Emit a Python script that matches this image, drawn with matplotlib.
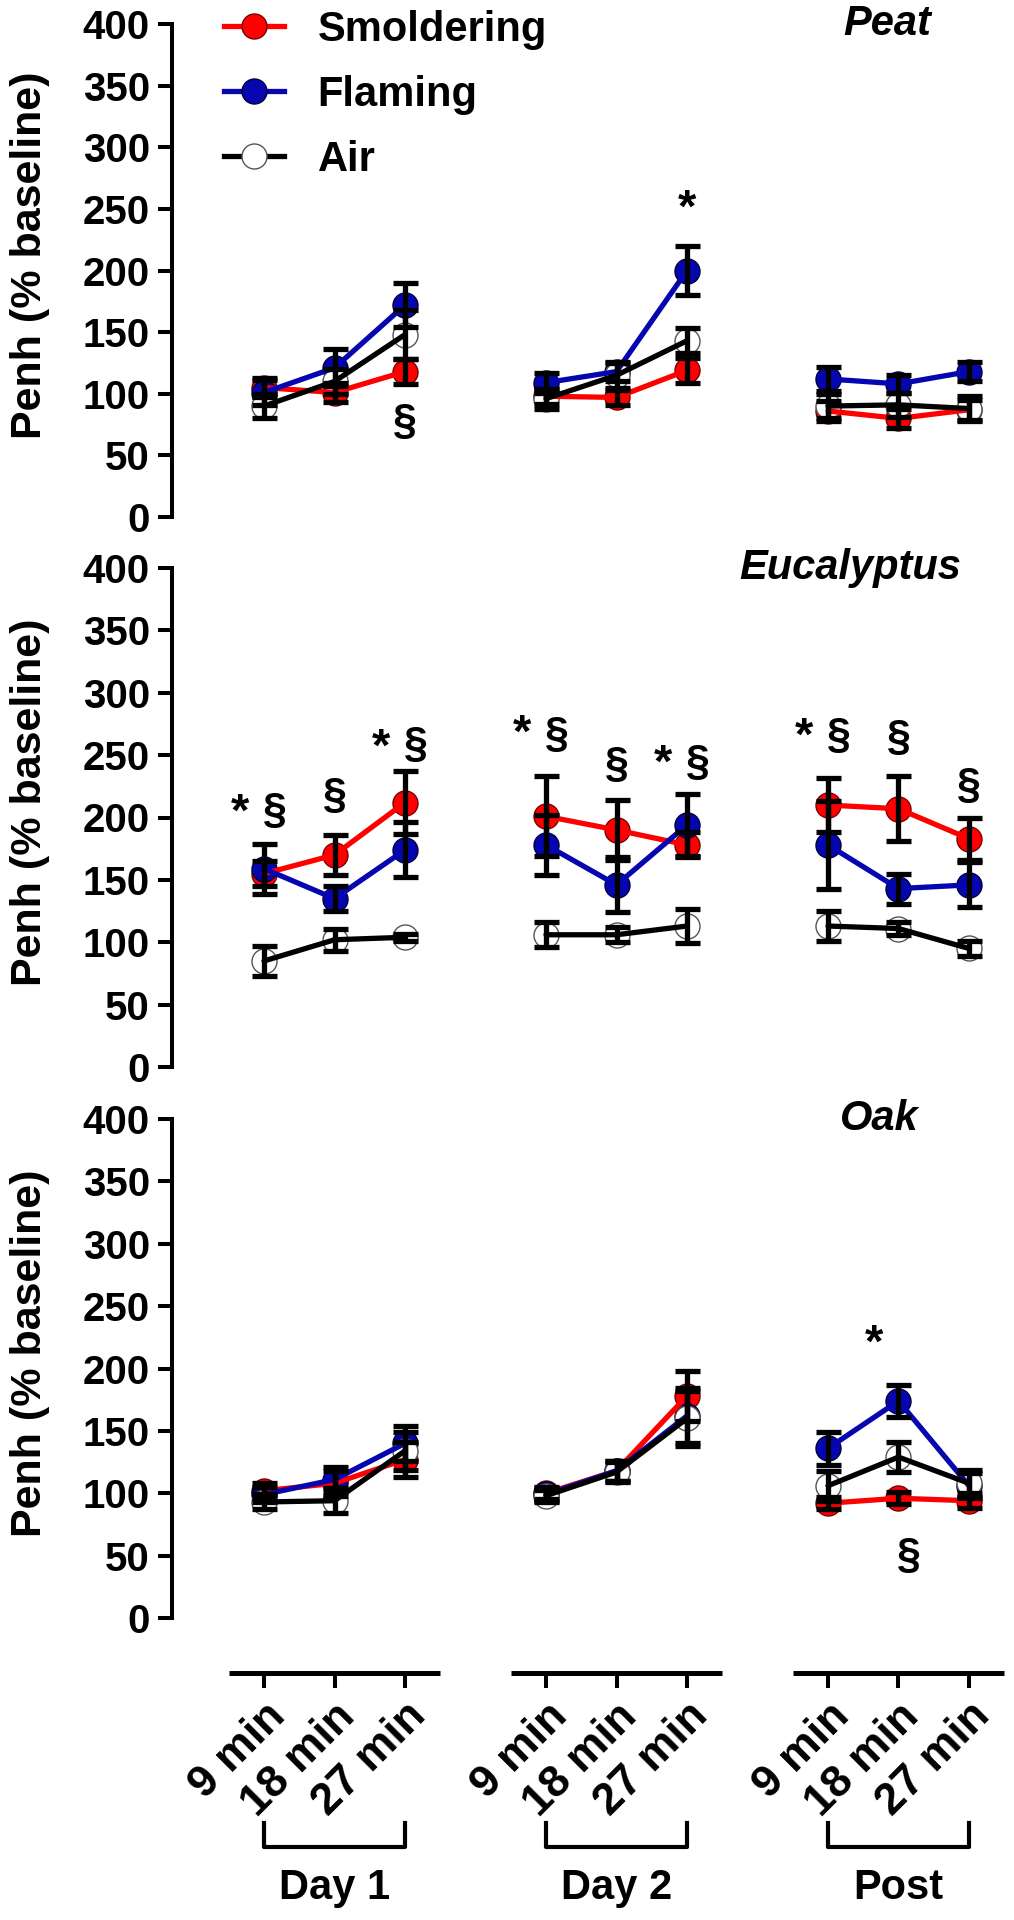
import matplotlib.pyplot as plt
from matplotlib.lines import Line2D
from matplotlib.transforms import blended_transform_factory

plt.rcParams['font.family'] = ['Liberation Sans', 'DejaVu Sans']
plt.rcParams['font.weight'] = 'bold'

# ----------------------------------------------------------------------
# Data (Penh, % of baseline, mean and SEM)
# ----------------------------------------------------------------------
TIMES = ["9 min", "18 min", "27 min"]
PERIODS = ["Day 1", "Day 2", "Post"]
SERIES = ["Smoldering", "Flaming", "Air"]
PANELS = ["Peat", "Eucalyptus", "Oak"]

peat_smoldering = [105, 101, 118, 98, 97, 119, 86, 80, 87]
peat_smoldering_err = [8, 8, 10, 6, 6, 10, 8, 8, 8]
peat_flaming = [101, 121, 172, 109, 118, 200, 112, 108, 118]
peat_flaming_err = [10, 15, 18, 8, 8, 20, 10, 7, 8]
peat_air = [90, 110, 148, 96, 115, 143, 90, 91, 88]
peat_air_err = [10, 10, 20, 8, 10, 10, 10, 10, 10]

euc_smoldering = [155, 170, 212, 201, 190, 178, 210, 207, 183]
euc_smoldering_err = [10, 16, 25, 32, 24, 10, 22, 26, 17]
euc_flaming = [159, 135, 174, 178, 146, 194, 178, 143, 146]
euc_flaming_err = [20, 10, 22, 24, 22, 25, 35, 12, 18]
euc_air = [85, 102, 104, 106, 106, 113, 113, 111, 95]
euc_air_err = [12, 9, 3, 10, 6, 14, 12, 5, 6]

oak_smoldering = [102, 108, 127, 100, 118, 178, 92, 96, 94]
oak_smoldering_err = [6, 10, 14, 5, 8, 20, 5, 5, 6]
oak_flaming = [99, 111, 140, 99, 118, 162, 136, 174, 106]
oak_flaming_err = [6, 10, 14, 5, 8, 22, 13, 13, 10]
oak_air = [93, 94, 134, 98, 117, 160, 106, 129, 108]
oak_air_err = [6, 10, 15, 5, 8, 22, 12, 12, 11]

# significance marks: (point index, text, y value)
peat_marks = [(2, "§", 77), (5, "*", 249)]
euc_marks = [(0, "*", 203), (0, "§", 205), (1, "§", 217), (2, "*", 255), (2, "§", 258),
             (3, "*", 266), (3, "§", 266), (4, "§", 242), (5, "*", 242), (5, "§", 244),
             (6, "*", 264), (6, "§", 265), (7, "§", 264), (8, "§", 225)]
oak_marks = [(7, "*", 219), (7, "§", 50)]

COLORS = {"Smoldering": "#ff0000", "Flaming": "#0606b0", "Air": "black"}
FACES = {"Smoldering": "#ff0000", "Flaming": "#0606b0", "Air": "white"}
EDGES = {"Smoldering": "#7a0000", "Flaming": "#00003a", "Air": "#555555"}

panel_data = [
    (peat_smoldering, peat_smoldering_err, peat_flaming, peat_flaming_err, peat_air, peat_air_err, peat_marks),
    (euc_smoldering, euc_smoldering_err, euc_flaming, euc_flaming_err, euc_air, euc_air_err, euc_marks),
    (oak_smoldering, oak_smoldering_err, oak_flaming, oak_flaming_err, oak_air, oak_air_err, oak_marks),
]

# x layout: 3 time points per period, one empty slot between periods
xpos = [g * 4 + t for g in range(len(PERIODS)) for t in range(len(TIMES))]

W, H = 1014, 1920
fig = plt.figure(figsize=(W / 100, H / 100), dpi=100)

# panel pixel extents (y of value 0, y of value 400)
panel_px = [(517, 24), (1067, 568), (1618, 1119)]
title_x = [0.85, 0.805, 0.84]
left_px = 172
x_left, x_right = (172 - 264) / 70.5, (1014 - 264) / 70.5

MS, LW = 18, 3.8

axes = []
for p, (y0, y400) in enumerate(panel_px):
    ax = fig.add_axes([left_px / W, 1 - y0 / H, (W - left_px) / W, (y0 - y400) / H])
    axes.append(ax)
    sm, sm_e, fl, fl_e, air, air_e, marks = panel_data[p]
    vals = {"Smoldering": (sm, sm_e), "Flaming": (fl, fl_e), "Air": (air, air_e)}

    for k, name in enumerate(SERIES):
        y, e = vals[name]
        for g in range(len(PERIODS)):
            sl = slice(g * 3, g * 3 + 3)
            ax.plot(xpos[sl], y[sl], linestyle="none", marker="o", ms=MS,
                    mfc=FACES[name], mec=EDGES[name], mew=1, zorder=2 + k * 0.1)
            ax.plot(xpos[sl], y[sl], color=COLORS[name], lw=LW,
                    solid_capstyle="round", zorder=3 + k * 0.1)
        ax.errorbar(xpos, y, yerr=e, fmt="none", ecolor="black", elinewidth=3.8,
                    capsize=9, capthick=3.8, zorder=4)

    for idx, txt, yv in marks:
        dx = 0.0
        if txt == "*" and any(m[0] == idx and m[1] == "§" for m in marks):
            dx = -0.34
        elif txt == "§" and any(m[0] == idx and m[1] == "*" for m in marks):
            dx = 0.15
        ax.text(xpos[idx] + dx, yv, txt, ha="center", va="center",
                fontsize=34 if txt == "*" else 31, fontweight="bold")

    ax.set_xlim(x_left, x_right)
    ax.set_ylim(0, 400)
    ax.set_yticks(range(0, 401, 50))
    ax.tick_params(axis="y", length=10, width=2.9, pad=6, labelsize=29)
    for lab in ax.get_yticklabels():
        lab.set_fontweight("bold")
    for s in ["top", "right", "bottom"]:
        ax.spines[s].set_visible(False)
    ax.spines["left"].set_linewidth(2.9)
    ax.patch.set_alpha(0)

    ax.text(-0.169, 0.53, "Penh (% baseline)", rotation=90, transform=ax.transAxes,
            ha="center", va="center", fontsize=31, fontweight="bold")
    ax.text(title_x[p], 1.0, PANELS[p], transform=ax.transAxes, ha="center", va="center",
            fontsize=30, fontweight="bold", fontstyle="italic")

    if p < 2:
        ax.set_xticks([])

# bottom panel carries the broken x axis
axb = axes[2]
y0b, y400b = panel_px[2]
ph = y0b - y400b
axis_off = 1673 - y0b
axb.spines["bottom"].set_position(("outward", axis_off * 0.72))
axb.set_xticks(xpos)
axb.set_xticklabels(TIMES * len(PERIODS), rotation=45, ha="right", va="top",
                    rotation_mode="anchor", fontsize=32, fontweight="bold")
axb.tick_params(axis="x", length=11, width=2.9, pad=5)

trans = blended_transform_factory(axb.transData, axb.transAxes)
y_axis = -axis_off / ph
y_br_top = -(1823 - y0b) / ph
y_br_bot = -(1847 - y0b) / ph
y_lab = -(1888 - y0b) / ph
for g, period in enumerate(PERIODS):
    first, last = xpos[g * 3], xpos[g * 3 + 2]
    axb.plot([first - 0.5, last + 0.5], [y_axis, y_axis], color="black", lw=3.6,
             solid_capstyle="butt", transform=trans, clip_on=False)
    axb.plot([first, first, last, last], [y_br_top, y_br_bot, y_br_bot, y_br_top],
             color="black", lw=3.0, transform=trans, clip_on=False)
    axb.text((first + last) / 2, y_lab, period, transform=trans, ha="center", va="center",
             fontsize=30, fontweight="bold")

# legend on the top panel
handles = [Line2D([0], [0], color=COLORS[n], lw=LW, marker="o", ms=MS,
                  mfc=FACES[n], mec=EDGES[n], mew=1) for n in SERIES]
leg = axes[0].legend(handles, SERIES, loc="upper left", bbox_to_anchor=(224 / W, 1 - 10 / H),
                     bbox_transform=fig.transFigure, frameon=False, fontsize=30,
                     handlelength=1.45, handletextpad=0.8, labelspacing=0.6,
                     borderpad=0, borderaxespad=0)
for t in leg.get_texts():
    t.set_fontweight("bold")

fig.savefig("out.png", dpi=100)
